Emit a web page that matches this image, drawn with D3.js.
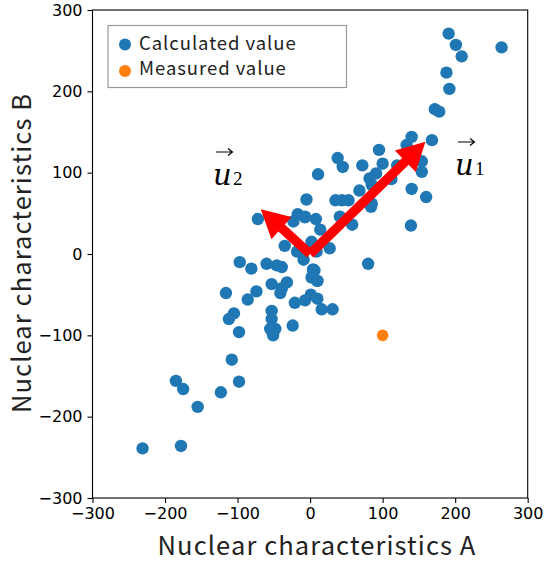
<!DOCTYPE html>
<html><head><meta charset="utf-8">
<script src="https://cdn.jsdelivr.net/npm/d3@7"></script>
<style>body{margin:0;background:#fff}svg{display:block}</style>
</head><body>
<svg id="chart" width="545" height="568"></svg>
<script>
// ---- data ----
const calcA = [191,201,209,264,188,192,172,178,140,168,133,154,154,140,160,139,
  95,38,45,72,100,11,120,91,82,85,112,68,35,44,53,84,85,-5,-7,8,14,41,58,2,27,9,
  -72,-35,-17,-7,-23,-18,-9,4,3,10,
  -97,-81,-60,-46,-39,-32,-53,-41,-39,-74,-116,-86,-21,-7,-105,-112,-98,-53,-53,-55,-48,-51,-24,
  -108,-98,-185,-175,-123,-155,-231,-178,
  6,2,10,1,10,16,31,80];
const calcB = [271,257,243,254,223,203,178,175,144,140,134,114,101,80,70,35,
  128,118,107,109,111,98,109,99,93,85,92,78,66,66,66,58,62,67,46,43,30,46,36,15,7,3,
  43,10,49,45,40,3,-7,-19,-28,-33,
  -10,-18,-12,-14,-16,-35,-37,-48,-42,-46,-48,-56,-60,-57,-73,-80,-96,-70,-80,-92,-92,-100,-88,
  -130,-157,-156,-166,-170,-188,-239,-236,
  -20,-29,-33,-50,-55,-68,-68,-12];
const measA = [100];
const measB = [-100];
const vecNames = ["1","2"];
const vecA = [159, -68];
const vecB = [138, 55];
const ticks = [-300,-200,-100,0,100,200,300];
const legendLabels = ["Calculated value","Measured value"];
const xTitle = "Nuclear characteristics A";
const yTitle = "Nuclear characteristics B";

// ---- layout ----
const W = 545, H = 568;
const m = {left:92.5, right:17.3, top:10, bottom:70};
const svg = d3.select("#chart");
const x = d3.scaleLinear().domain([-300,300]).range([m.left, W-m.right]);
const y = d3.scaleLinear().domain([-300,300]).range([H-m.bottom, m.top]);
const blue = "#1f77b4", orange = "#ff7f0e";
const gothic = "'Noto Sans CJK JP','Noto Sans',sans-serif";

// points
const calc = calcA.map((a,i)=>({a, b:calcB[i]}));
svg.append("g").selectAll("circle").data(calc).join("circle")
  .attr("cx", d=>x(d.a)).attr("cy", d=>y(d.b)).attr("r", 6.2).attr("fill", blue);
svg.append("g").selectAll("circle").data(measA.map((a,i)=>({a,b:measB[i]}))).join("circle")
  .attr("cx", d=>x(d.a)).attr("cy", d=>y(d.b)).attr("r", 5.8).attr("fill", orange);

// arrows
function arrowPts(x0,y0,x1,y1,sw,hw,hl){
  const dx=x1-x0, dy=y1-y0, L=Math.hypot(dx,dy);
  const ux=dx/L, uy=dy/L, nx=-uy, ny=ux;
  const bx=x1-ux*hl, by=y1-uy*hl;
  return [[x0+nx*sw/2,y0+ny*sw/2],[bx+nx*sw/2,by+ny*sw/2],[bx+nx*hw/2,by+ny*hw/2],[x1,y1],
          [bx-nx*hw/2,by-ny*hw/2],[bx-nx*sw/2,by-ny*sw/2],[x0-nx*sw/2,y0-ny*sw/2]];
}
const ag = svg.append("g");
vecA.forEach((a,i)=>{
  ag.append("polygon").attr("points", arrowPts(x(0),y(0),x(a),y(vecB[i]),9.5,30,28).map(p=>p.join(",")).join(" "))
    .attr("fill","#ff0000");
});

// vector labels
const labPos = [[455,175],[213,185]];
vecNames.forEach((n,i)=>{
  const [lx,ly] = labPos[i];
  const g = svg.append("g").attr("transform",`translate(${lx},${ly})`);
  g.append("text").attr("x",0).attr("y",0).attr("font-family","'DejaVu Serif','Liberation Serif',serif")
    .attr("font-style","italic").attr("font-size",29).attr("fill","#000").text("u");
  g.append("text").attr("x",20).attr("y",0).attr("font-family","'Liberation Serif',serif")
    .attr("font-size",19).attr("fill","#000").text(n);
  g.append("path").attr("d","M3,-33 H19 M15,-36.5 L19.5,-33 L15,-29.5").attr("fill","none")
    .attr("stroke","#000").attr("stroke-width",1.2);
});

// axes
const ax = svg.append("g").attr("transform",`translate(0,${H-m.bottom})`)
  .call(d3.axisBottom(x).tickValues(ticks).tickSize(5).tickPadding(5).tickFormat(d=>d<0?"\u2212"+Math.abs(d):d));
const ay = svg.append("g").attr("transform",`translate(${m.left},0)`)
  .call(d3.axisLeft(y).tickValues(ticks).tickSize(5).tickPadding(5).tickFormat(d=>d<0?"\u2212"+Math.abs(d):d));
[ax,ay].forEach(g=>{
  g.select(".domain").remove();
  g.selectAll("line").attr("stroke","#000").attr("stroke-width",1.1);
  g.selectAll("text").attr("font-family","'DejaVu Sans',sans-serif").attr("font-size",16).attr("fill","#000");
});
svg.append("rect").attr("x",m.left).attr("y",m.top).attr("width",W-m.left-m.right).attr("height",H-m.top-m.bottom)
  .attr("fill","none").attr("stroke","#000").attr("stroke-width",1.1);

// titles
svg.append("text").attr("x",317).attr("y",555).attr("text-anchor","middle")
  .attr("font-family",gothic).attr("font-size",25.5).attr("letter-spacing",1.1).attr("fill","#222").text(xTitle);
svg.append("text").attr("transform","translate(31,253) rotate(-90)").attr("text-anchor","middle")
  .attr("font-family",gothic).attr("font-size",25.5).attr("letter-spacing",1.1).attr("fill","#222").text(yTitle);

// legend
const lg = svg.append("g");
lg.append("rect").attr("x",108).attr("y",25.5).attr("width",238.5).attr("height",62)
  .attr("fill","#fff").attr("stroke","#999").attr("stroke-width",1.2);
[blue,orange].forEach((c,i)=>{
  lg.append("circle").attr("cx",125).attr("cy",44.5+i*26.5).attr("r",6).attr("fill",c);
  lg.append("text").attr("x",139).attr("y",49.5+i*25).attr("font-family",gothic).attr("font-size",18.5)
    .attr("letter-spacing",0.95).attr("fill","#222").text(legendLabels[i]);
});
</script>
</body></html>
